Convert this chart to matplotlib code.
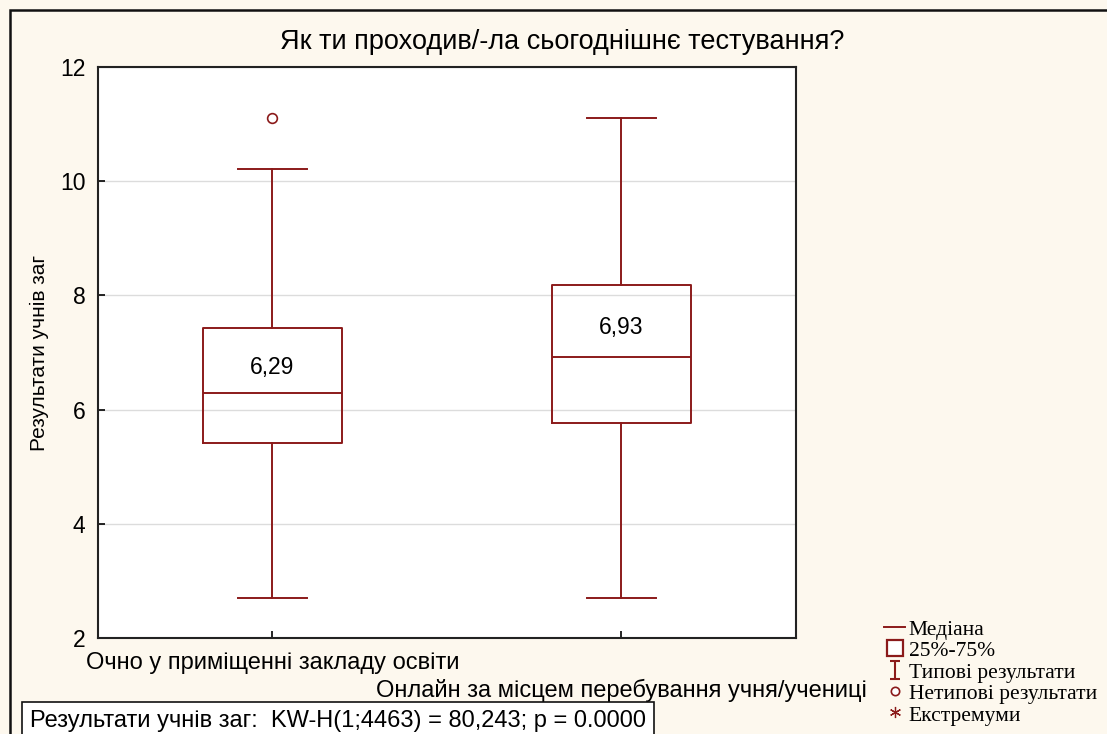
import matplotlib.pyplot as plt
from matplotlib.lines import Line2D
from matplotlib.patches import Rectangle
from matplotlib.path import Path

# Kruskal-Wallis box plot summary values
groups = ["Очно у приміщенні закладу освіти",
          "Онлайн за місцем перебування учня/учениці"]
medians = [6.29, 6.93]
q1 = [5.41, 5.77]
q3 = [7.43, 8.19]
whisk_lo = [2.70, 2.70]
whisk_hi = [10.21, 11.10]
outliers = [[11.10], []]
yticks = [2, 4, 6, 8, 10, 12]

red = "#8b1a1a"
bg = "#fdf8ee"
plt.rcParams['font.family'] = ['Liberation Sans', 'DejaVu Sans']

fig = plt.figure(figsize=(11.07, 7.34), dpi=100, facecolor=bg)
ax = fig.add_axes([0.0885, 0.1308, 0.6305, 0.7779])
ax.set_facecolor("white")

stats = []
for i in range(len(groups)):
    stats.append(dict(med=medians[i], q1=q1[i], q3=q3[i],
                      whislo=whisk_lo[i], whishi=whisk_hi[i],
                      fliers=outliers[i], label=groups[i]))

ax.bxp(stats, positions=[1, 2], widths=0.4, showfliers=True,
       boxprops=dict(color=red, lw=1.4),
       medianprops=dict(color=red, lw=1.4),
       whiskerprops=dict(color=red, lw=1.4),
       capprops=dict(color=red, lw=1.4),
       capwidths=0.2,
       flierprops=dict(marker='o', markersize=7, markerfacecolor='white',
                       markeredgecolor=red, markeredgewidth=1.2))

# median values written inside the upper half of each box
for i, m in enumerate(medians):
    ax.text(i + 1, (m + q3[i]) / 2 - 0.12, f"{m:.2f}".replace('.', ','),
            ha='center', va='center', fontsize=16.5)

ax.set_xlim(0.5, 2.5)
ax.set_ylim(2, 12)
ax.set_yticks(yticks)
ax.set_xticks([1, 2])
ax.set_xticklabels([groups[0], "\n" + groups[1]], fontsize=17,
                   linespacing=1.25)
ax.tick_params(axis='y', direction='in', length=5, width=1.2,
               labelsize=16.5, pad=9)
ax.tick_params(axis='x', direction='in', length=5, width=1.2, pad=10)
ax.yaxis.grid(True, color='#dcdcdc', lw=1)
ax.set_axisbelow(True)
for s in ax.spines.values():
    s.set_linewidth(1.5)
    s.set_color('#222222')

ax.set_ylabel("Результати учнів заг", fontsize=15, labelpad=8)
fig.text(562 / 1107, 1 - 42 / 734, "Як ти проходив/-ла сьогоднішнє тестування?",
         ha='center', va='center', fontsize=19.5)

# outer frame
fig.patches.append(Rectangle((10 / 1107, -0.1), 1.2, 1 - 10 / 734 + 0.1,
                             transform=fig.transFigure, fill=False,
                             edgecolor='#111111', lw=1.8))

# statistics box
fig.text(30 / 1107, 1 - 721 / 734,
         "Результати учнів заг:  KW-H(1;4463) = 80,243; p = 0.0000",
         ha='left', va='center', fontsize=17,
         bbox=dict(boxstyle='square,pad=0.35', facecolor='white',
                   edgecolor='#111111', lw=1.2))

# legend
ibeam = Path([(-0.6, 1), (0.6, 1), (0, 1), (0, -1), (-0.6, -1), (0.6, -1)],
             [Path.MOVETO, Path.LINETO, Path.MOVETO, Path.LINETO,
              Path.MOVETO, Path.LINETO])
handles = [
    Line2D([], [], color=red, lw=1.4),
    Line2D([], [], ls='', marker='s', markersize=11, markerfacecolor='white',
           markeredgecolor=red, markeredgewidth=1.6),
    Line2D([], [], ls='', marker=ibeam, markersize=13, markeredgecolor=red,
           markeredgewidth=1.5, fillstyle='none'),
    Line2D([], [], ls='', marker='o', markersize=6, markerfacecolor='white',
           markeredgecolor=red, markeredgewidth=1.2),
    Line2D([], [], ls='', marker=(6, 2, 0), markersize=8, markeredgecolor=red,
           markeredgewidth=0.9),
]
labels = ["Медіана", "25%-75%", "Типові результати", "Нетипові результати", "Екстремуми"]
fig.legend(handles, labels, loc='upper left',
           bbox_to_anchor=(873 / 1107, 1 - 608 / 734),
           frameon=False, handlelength=1.0, handletextpad=0.15,
           labelspacing=0.0, borderpad=0, handleheight=0.9,
           prop=dict(family=['Liberation Serif', 'DejaVu Serif'], size=15.5))

fig.savefig("out.png", dpi=100, facecolor=bg)
